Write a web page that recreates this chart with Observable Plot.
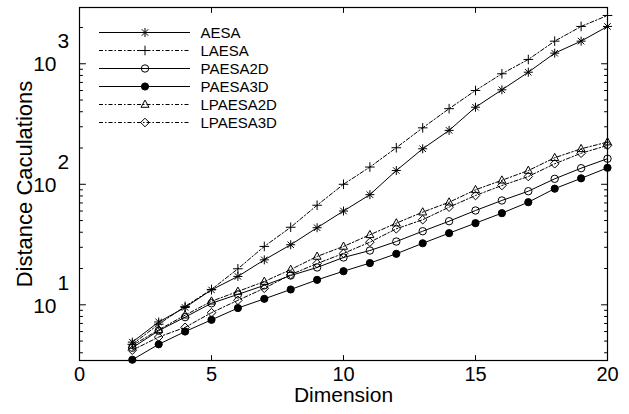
<!DOCTYPE html>
<html>
<head>
<meta charset="utf-8">
<script src="https://cdn.jsdelivr.net/npm/d3@7"></script>
<script src="https://cdn.jsdelivr.net/npm/@observablehq/plot@0.6"></script>
<style>
  html, body { margin: 0; padding: 0; background: #fff; }
  #wrap { position: relative; width: 629px; height: 414px; }
  #legend { position: absolute; left: 99px; top: 21px; width: 200px; height: 120px; }
  #legend svg, #chart svg { max-width: none !important; }
</style>
</head>
<body>
<div id="wrap"><div id="chart"></div><div id="legend"></div></div>
<script>
// ---- data ----
const dims = [2,3,4,5,6,7,8,9,10,11,12,13,14,15,16,17,18,19,20];
const aesa     = [4.9, 7.2, 9.5, 13.3, 17.2, 23.6, 31.5, 43.6, 60, 82, 130, 197, 280, 436, 608, 851, 1224, 1541, 2040];
const laesa    = [4.7, 6.9, 9.7, 13.4, 19.9, 30.5, 44, 67, 100, 139, 201, 294, 424, 600, 826, 1086, 1540, 2040, 2516];
const paesa2d  = [4.4, 6.1, 7.9, 10.3, 12.2, 14.5, 17.5, 20.4, 24.7, 28.2, 33.5, 40.8, 49.4, 60.6, 73.4, 87.6, 111, 136, 163];
const paesa3d  = [3.5, 4.7, 6.0, 7.5, 9.4, 11.2, 13.4, 16.1, 19.0, 22.2, 26.5, 32.4, 39.3, 47.6, 57.6, 71, 92, 112, 137];
const lpaesa2d = [4.6, 6.2, 8.2, 10.7, 12.9, 15.6, 19.6, 25.2, 30.5, 38.1, 47.6, 58.7, 71, 90, 108, 130, 166, 197, 224];
const lpaesa3d = [4.2, 5.4, 6.5, 8.6, 10.9, 13.7, 17.8, 22, 26.7, 33.1, 42.7, 50.8, 64.6, 80.7, 97.7, 116, 148, 181, 210];

const seriesNames = ["AESA", "LAESA", "PAESA2D", "PAESA3D", "LPAESA2D", "LPAESA3D"];
const seriesValues = [aesa, laesa, paesa2d, paesa3d, lpaesa2d, lpaesa3d];

const xTicks = [0, 5, 10, 15, 20];
const yMajor = [10, 100, 1000];
const yMinor = [4,5,6,7,8,9,20,30,40,50,60,70,80,90,200,300,400,500,600,700,800,900,2000];

// ---- symbols ----
const rOf = (size) => Math.sqrt(size / Math.PI);
const symAsterisk = {draw(c, size) { const r = rOf(size), d = r * 0.72;
  c.moveTo(-r, 0); c.lineTo(r, 0); c.moveTo(0, -r); c.lineTo(0, r);
  c.moveTo(-d, -d); c.lineTo(d, d); c.moveTo(-d, d); c.lineTo(d, -d); }};
const symPlus = {draw(c, size) { const r = rOf(size);
  c.moveTo(-r, 0); c.lineTo(r, 0); c.moveTo(0, -r); c.lineTo(0, r); }};
const symCircle = {draw(c, size) { const r = rOf(size);
  c.moveTo(r, 0); c.arc(0, 0, r, 0, 2 * Math.PI); c.closePath(); }};
const symTriangle = {draw(c, size) { const r = rOf(size);
  c.moveTo(0, -r * 1.1); c.lineTo(r, r * 0.7); c.lineTo(-r, r * 0.7); c.closePath(); }};
const symDiamond = {draw(c, size) { const r = rOf(size);
  c.moveTo(0, -r); c.lineTo(r, 0); c.lineTo(0, r); c.lineTo(-r, 0); c.closePath(); }};

const dashDot = "4,2,1.5,2";
const styles = [
  {symbol: symAsterisk, r: 4.5, fill: "none", dash: null},
  {symbol: symPlus, r: 4.8, fill: "none", dash: dashDot},
  {symbol: symCircle, r: 3.7, fill: "none", dash: null},
  {symbol: symCircle, r: 3.6, fill: "black", dash: null},
  {symbol: symTriangle, r: 4, fill: "none", dash: dashDot},
  {symbol: symDiamond, r: 4.3, fill: "none", dash: dashDot}
];

const tickShape = {draw(c, l) { c.moveTo(0, 0); c.lineTo(0, -l); }};
const font = "'Liberation Sans', Arial, Helvetica, sans-serif";

// ---- main chart ----
const marks = [];
seriesNames.forEach((name, i) => {
  const rows = dims.map((d, j) => ({dim: d, value: seriesValues[i][j]}));
  const st = styles[i];
  marks.push(Plot.line(rows, {x: "dim", y: "value", stroke: "black", strokeWidth: 1,
    strokeDasharray: st.dash || undefined}));
  marks.push(Plot.dot(rows, {x: "dim", y: "value", symbol: st.symbol, r: st.r,
    stroke: "black", fill: st.fill, strokeWidth: 1}));
});

// inward ticks on all four sides
const vt = (data, o) => Plot.vector(data, {anchor: "start", shape: tickShape, stroke: "black", strokeWidth: 1, ...o});
marks.push(
  vt(yMajor, {y: d => d, frameAnchor: "left", rotate: 90, length: 6}),
  vt(yMinor, {y: d => d, frameAnchor: "left", rotate: 90, length: 3}),
  vt(yMajor, {y: d => d, frameAnchor: "right", rotate: -90, length: 6}),
  vt(yMinor, {y: d => d, frameAnchor: "right", rotate: -90, length: 3}),
  vt(xTicks, {x: d => d, frameAnchor: "bottom", rotate: 0, length: 5}),
  vt(xTicks, {x: d => d, frameAnchor: "top", rotate: 180, length: 5})
);

// tick labels and titles
marks.push(
  Plot.text(xTicks, {x: d => d, frameAnchor: "bottom", dy: 20, text: d => String(d), fontSize: 20, fill: "black"}),
  Plot.text(yMajor, {y: d => d, frameAnchor: "left", dx: -23, dy: 1, text: () => "10", textAnchor: "end", fontSize: 21, fill: "black"}),
  Plot.text(yMajor, {y: d => d, frameAnchor: "left", dx: -22, dy: -22, text: d => String(Math.round(Math.log10(d))), textAnchor: "start", fontSize: 21, fill: "black"}),
  Plot.text(["Dimension"], {frameAnchor: "bottom", dy: 41, text: d => d, fontSize: 21, fill: "black", textAnchor: "middle"}),
  Plot.text(["Distance Caculations"], {frameAnchor: "left", dx: -55, rotate: -90, text: d => d, fontSize: 22, fill: "black", textAnchor: "middle"}),
  Plot.frame({stroke: "black", strokeWidth: 1.2})
);

const chart = Plot.plot({
  width: 629, height: 414,
  marginLeft: 79, marginRight: 22, marginTop: 7, marginBottom: 54,
  style: {fontFamily: font, background: "white", color: "black"},
  x: {domain: [0, 20], axis: null},
  y: {type: "log", domain: [3.45, 2930], axis: null},
  marks
});
document.getElementById("chart").appendChild(chart);

// ---- legend (separate small plot overlaid top-left) ----
const legendMarks = [];
seriesNames.forEach((name, i) => {
  const st = styles[i];
  legendMarks.push(Plot.ruleY([name], {y: d => d, x1: 0, x2: 91, stroke: "black", strokeWidth: 1,
    strokeDasharray: st.dash || undefined}));
  legendMarks.push(Plot.dot([name], {y: d => d, x: 45.5, symbol: st.symbol, r: st.r,
    stroke: "black", fill: st.fill, strokeWidth: 1}));
});
legendMarks.push(Plot.text(seriesNames, {y: d => d, x: 101, text: d => d, textAnchor: "start", fontSize: 15, fill: "black", dy: 1}));

const legend = Plot.plot({
  width: 200, height: 120,
  margin: 0,
  style: {fontFamily: font, background: "transparent", overflow: "visible"},
  x: {domain: [0, 91], range: [0, 91], axis: null},
  y: {type: "point", domain: seriesNames, range: [9.7, 103.3], padding: 0, axis: null},
  marks: legendMarks
});
document.getElementById("legend").appendChild(legend);
</script>
</body>
</html>
